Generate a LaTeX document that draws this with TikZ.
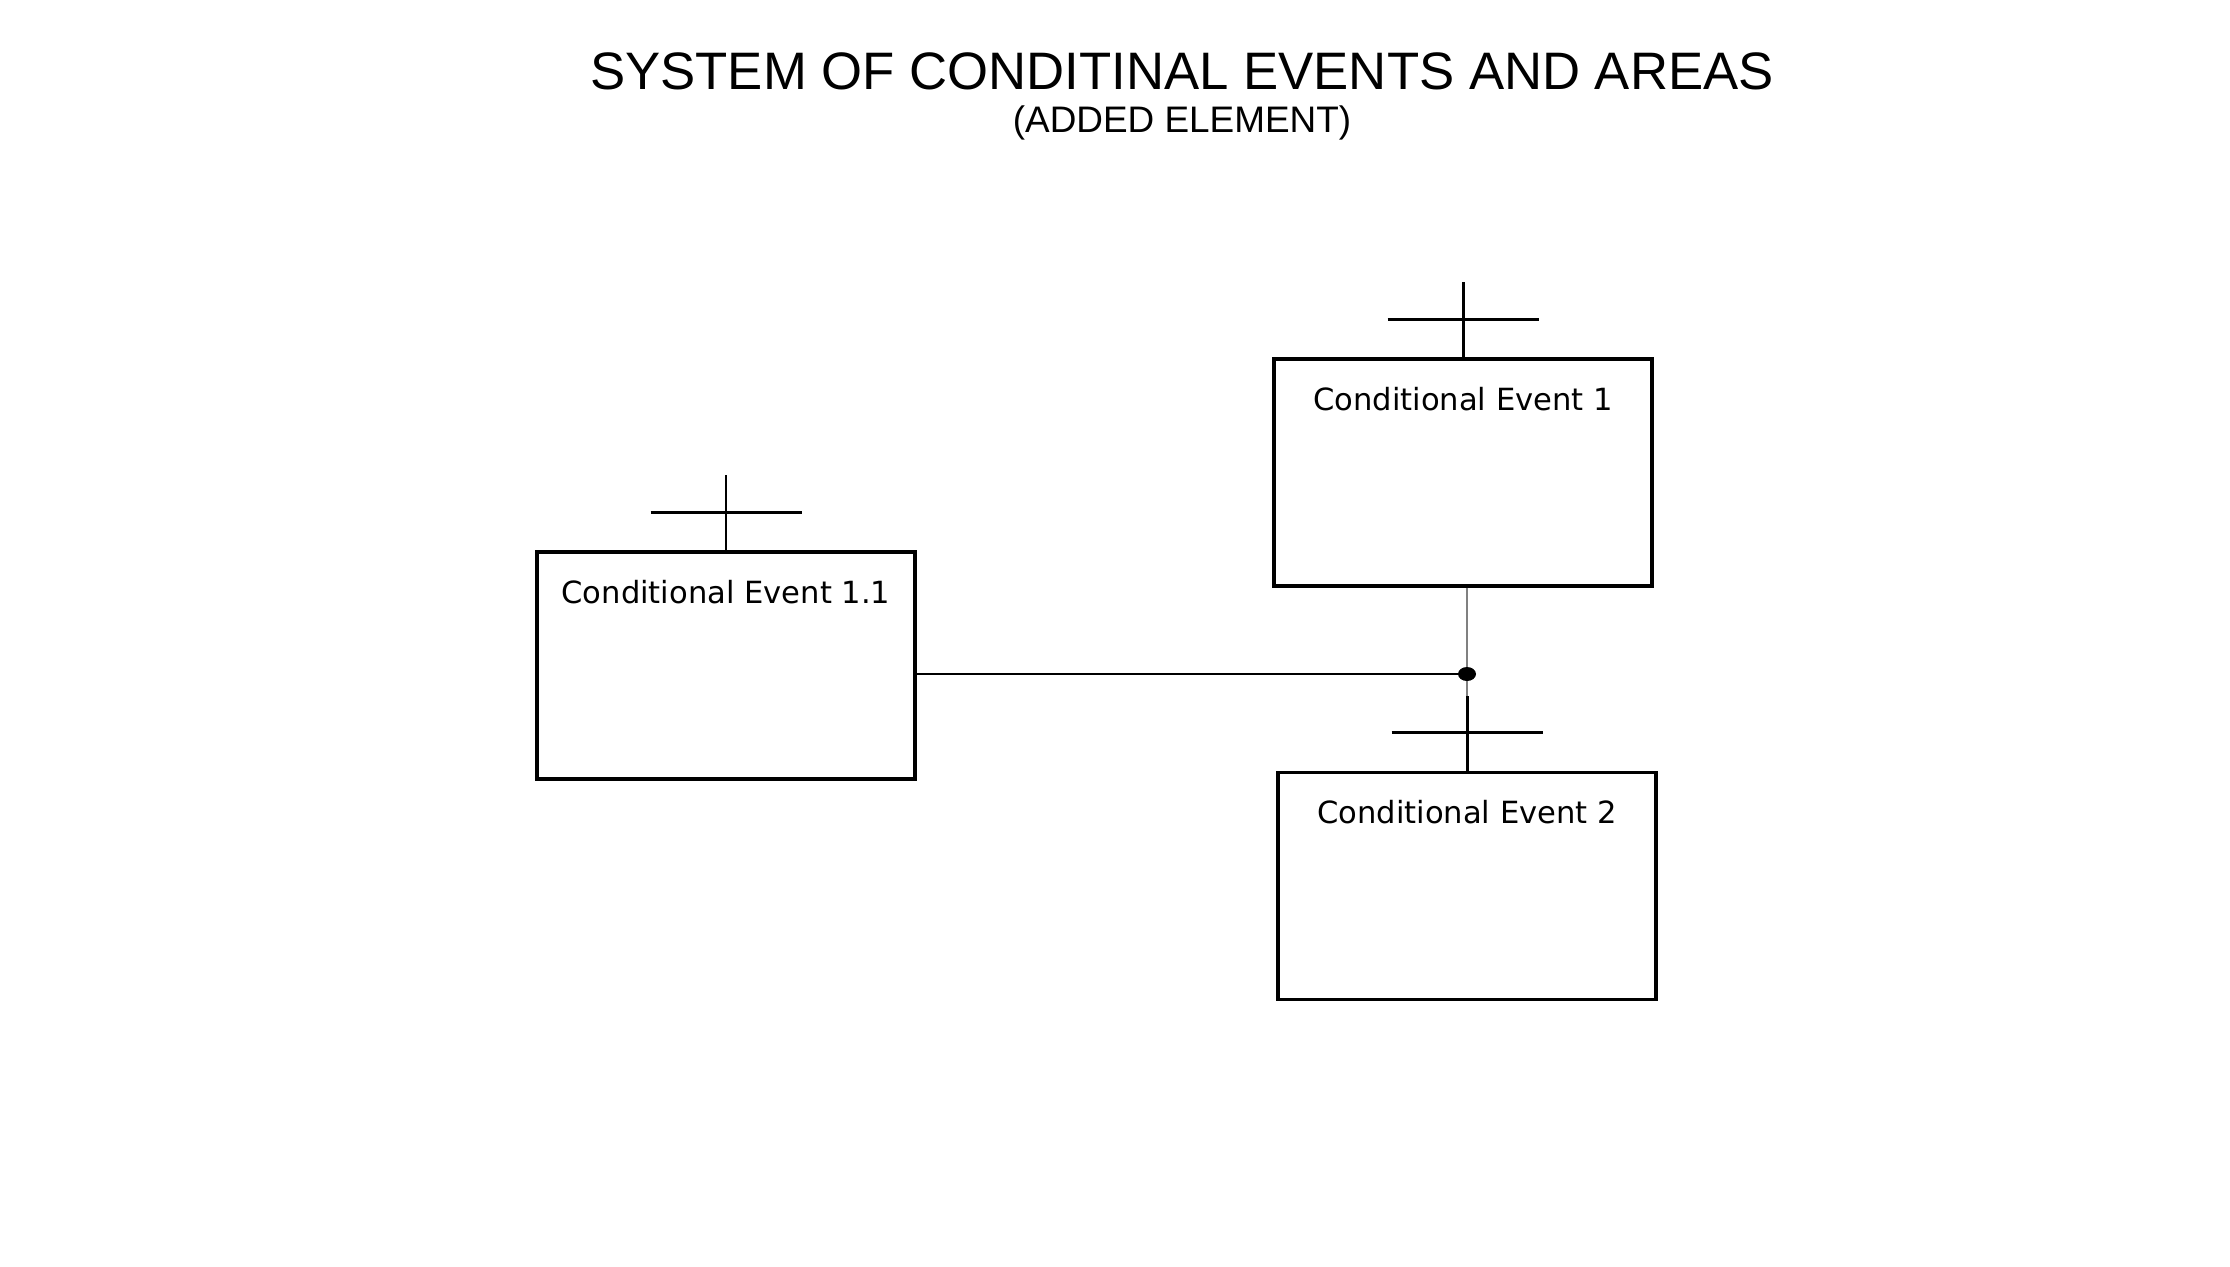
\documentclass[tikz,border=0pt]{standalone}
\usepackage{fontspec}
\newfontfamily\titlefont{Liberation Sans}
\newfontfamily\eventfont{DejaVu Sans}
\usepackage{tikz}
\usetikzlibrary{positioning}
\tikzstyle{event} = [rectangle, draw, line width=0.9pt, minimum width=3.78cm,
    inner sep=0pt, text height=0.51cm, text depth=1.76cm,
    font=\eventfont\fontsize{8.7}{10}\selectfont]
\tikzstyle{title} = [anchor=base, inner sep=0pt, font=\titlefont\fontsize{15}{18}\selectfont]
\tikzstyle{subtitle} = [anchor=base, inner sep=0pt, font=\titlefont\fontsize{10.5}{12}\selectfont]
\tikzstyle{bar} = [draw, line width=0.85pt]
\tikzstyle{line} = [draw, line width=0.3pt]
\tikzstyle{feed} = [draw, black!50, line width=0.45pt]

\begin{document}
\begin{tikzpicture}
        \useasboundingbox (0,0) rectangle (22.30,-12.66);
        % Title
        \node [title] (title) at (11.82,-0.89) {SYSTEM OF CONDITINAL EVENTS AND AREAS};
        \node [subtitle] (subtitle) at ([yshift=-0.43cm]title.base) {(ADDED ELEMENT)};
        % Place nodes
        \node [event] (ce11) at (7.26,-6.655) {Conditional Event 1.1};
        \node [event] (ce1) at (14.63,-4.725) {Conditional Event 1};
        \node [event, below=1.83cm of ce1, xshift=0.04cm] (ce2) {Conditional Event 2};
        \coordinate (junction) at (ce2.north |- 0,-6.74);
        % Draw edges
        \path [feed] (ce1.south -| ce2.north) -- (ce2.north);
        \path [line] (ce11.east |- junction) -- (junction);
        \fill (junction) ellipse (0.09 and 0.07);
        % Event marks
        \foreach \n in {ce11, ce1, ce2} {
            \path [bar] (\n.north) -- ++(0,0.75);
            \path [bar] ([shift={(-0.755,0.38)}]\n.north) -- ++(1.51,0);
        }
\end{tikzpicture}
\end{document}
